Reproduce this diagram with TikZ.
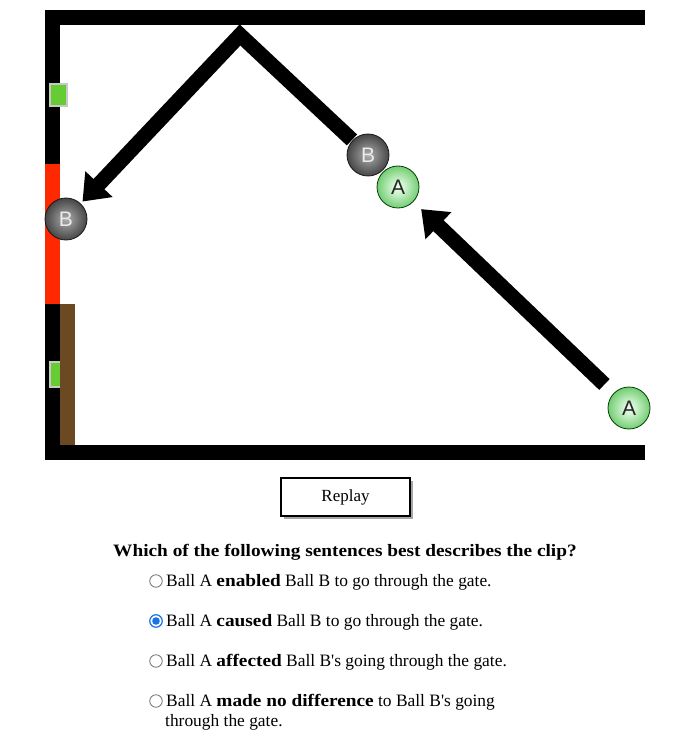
\documentclass[tikz,border=0pt]{standalone}
\usepackage{fontspec}
\setmainfont{Liberation Serif}[BoldFeatures={FakeStretch=1.11}]
\newfontfamily\straightfont{Liberation Serif}
\newfontfamily\ballfont{Liberation Sans}
\usetikzlibrary{arrows.meta}
\definecolor{wallred}{RGB}{255,40,0}
\definecolor{wallbrown}{RGB}{107,74,35}
\definecolor{gategreen}{RGB}{102,204,51}
\definecolor{gateedge}{RGB}{200,200,200}
\definecolor{bC0}{RGB}{175,175,175}
\definecolor{bC1}{RGB}{140,140,140}
\definecolor{bC2}{RGB}{70,70,70}
\definecolor{bC3}{RGB}{30,30,30}
\definecolor{aC0}{RGB}{242,255,242}
\definecolor{aC1}{RGB}{205,242,205}
\definecolor{aC2}{RGB}{115,205,115}
\definecolor{aC3}{RGB}{55,155,65}
\definecolor{radioblue}{RGB}{26,115,232}
\pgfdeclareradialshading{ballBshade}{\pgfpoint{0bp}{0bp}}{color(0bp)=(bC0); color(8bp)=(bC1); color(25bp)=(bC2); color(35bp)=(bC3); color(100bp)=(bC3)}
\pgfdeclareradialshading{ballAshade}{\pgfpoint{0bp}{0bp}}{color(0bp)=(aC0); color(8bp)=(aC1); color(25bp)=(aC2); color(35bp)=(aC3); color(100bp)=(aC3)}
\tikzset{
  wall/.style={fill=black, draw=none},
  ballB/.style={circle, minimum size=42pt, inner sep=0pt, outer sep=0pt, shading=ballBshade, draw=black!90, line width=0.8pt, text=white!92!black, font=\ballfont\fontsize{21}{21}\selectfont},
  ballA/.style={circle, minimum size=42pt, inner sep=0pt, outer sep=0pt, shading=ballAshade, draw=green!25!black, line width=0.8pt, text=black!85, font=\ballfont\fontsize{21}{21}\selectfont},
  motion/.style={line width=15pt, line join=miter, -{Triangle[length=24pt,width=36pt]}},
  gate/.style={fill=gategreen, draw=gateedge, line width=1.2pt},
  txt/.style={anchor=base west, inner sep=0pt, font=\fontsize{17.4}{20}\selectfont},
  radio/.style={circle, draw=black!55, fill=white, line width=0.8pt, minimum size=12.5pt, inner sep=0pt},
  radioon/.style={circle, draw=radioblue, fill=white, line width=1.2pt, minimum size=12.5pt, inner sep=0pt, path picture={\fill[radioblue] (path picture bounding box.center) circle (3.8pt);}}
}
\newcommand{\apos}{{\straightfont'}}
\begin{document}
\begin{tikzpicture}[x=1pt,y=-1pt]
\useasboundingbox[fill=white] (0,0) rectangle (692,751);
% walls
\fill[wall] (45,10) rectangle (645,25);
\fill[wall] (45,445) rectangle (645,460);
\fill[wall] (45,10) rectangle (60,460);
\fill[wallred] (45,164) rectangle (60,304);
\draw[gate] (50,84) rectangle (67,106);
\draw[gate] (50,362) rectangle (62,387);
\fill[wallbrown] (60,304) rectangle (75,445);
% balls
\node[ballB] (Bleft) at (66,219) {B};
\node[ballB] (Bup) at (368,155) {B};
\node[ballA] (Aup) at (398,187) {A};
\node[ballA] (Alow) at (629,408) {A};
\coordinate (apex) at (240,35);
% motion arrows
\draw[motion, shorten <=22pt, shorten >=24pt] (Bup.center) -- (apex) -- (Bleft.center);
\draw[motion, shorten <=34pt, shorten >=32pt] (Alow.center) -- (Aup.center);
% replay button
\fill[black!35] (283.5,480.5) rectangle (412.5,518.5);
\node[draw=black, line width=1.2pt, fill=white, minimum width=129pt, minimum height=38pt, inner sep=0pt, font=\fontsize{17}{20}\selectfont] (replay) at (345.5,497) {Replay};
% question
\node[txt, font=\bfseries\fontsize{17.4}{20}\selectfont] (q) at (113,556) {Which of the following sentences best describes the clip?};
\node[radio] (r1) at (156,581) {};
\node[txt] (o1) at (166,586) {Ball A \textbf{enabled} Ball B to go through the gate.};
\node[radioon] (r2) at (156,621) {};
\node[txt] (o2) at (166,626) {Ball A \textbf{caused} Ball B to go through the gate.};
\node[radio] (r3) at (156,661) {};
\node[txt] (o3) at (166,666) {Ball A \textbf{affected} Ball B\apos s going through the gate.};
\node[radio] (r4) at (156,701) {};
\node[txt] (o4) at (166,706) {Ball A \textbf{made no difference} to Ball B\apos s going};
\node[txt] (o4b) at (165,726) {through the gate.};
\end{tikzpicture}
\end{document}
